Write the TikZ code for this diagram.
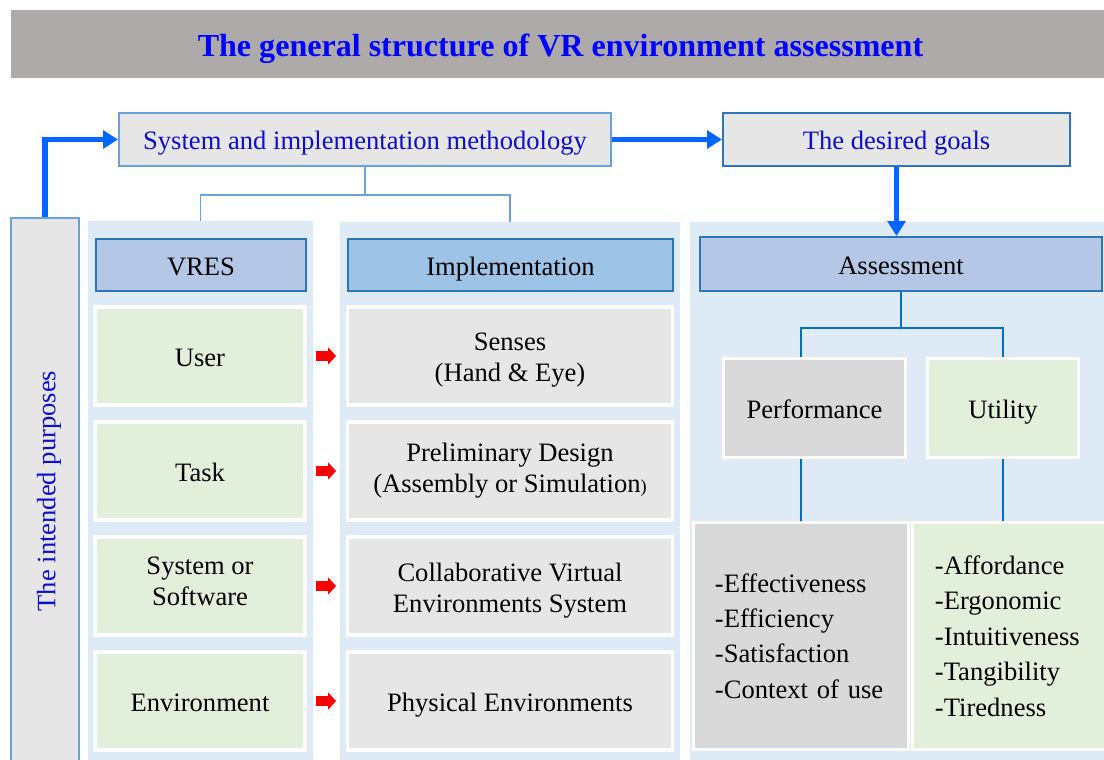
\documentclass[tikz,border=0pt]{standalone}
\usepackage{fontspec}
\setmainfont{Liberation Serif}
\definecolor{vrTitle}{HTML}{AEAAAA}
\definecolor{vrBlue}{HTML}{0000FF}
\definecolor{vrInk}{HTML}{0D0DCC}
\definecolor{vrArrow}{HTML}{0066FF}
\definecolor{vrLight}{HTML}{67A3DA}
\definecolor{vrEdge}{HTML}{2E75B6}
\definecolor{vrTie}{HTML}{0070C0}
\definecolor{vrPanel}{HTML}{DEEAF6}
\definecolor{vrHeadA}{HTML}{B4C7E7}
\definecolor{vrHeadB}{HTML}{9DC3E6}
\definecolor{vrBox}{HTML}{E6E6E6}
\definecolor{vrGreen}{HTML}{E2EFDA}
\definecolor{vrGrey}{HTML}{D9D9D9}
\usetikzlibrary{calc,arrows.meta}

% lower a line of text without changing its box
\newcommand{\drop}[2]{\raisebox{#1}[\height][\depth]{#2}}

\tikzset{
  every node/.style={font=\fontsize{18.9}{22}\selectfont, inner sep=0pt, align=center},
  oneline/.style={text height=19pt, text depth=4.2pt},
  panel/.style={fill=vrPanel},
  topbox/.style={fill=vrBox, draw=vrLight, line width=1.4pt, text=vrInk, oneline},
  head/.style={draw=vrEdge, line width=1.5pt, minimum height=1.3cm, oneline},
  cell/.style={draw=white, line width=2.2pt, minimum height=2.45cm},
  listbox/.style={cell, align=left, minimum height=5.675cm,
    font=\fontsize{18.9}{25.2}\selectfont},
  flow/.style={vrArrow, line width=3.6pt, -{Triangle[length=10.5pt,width=12.5pt]}},
  link/.style={vrLight, line width=1.4pt},
  tie/.style={vrTie, line width=2pt},
  hint/.style={red, line width=6.5pt, -{Triangle[length=5.7pt,width=12pt]},
    shorten <=6.4pt, shorten >=7pt},
}

\begin{document}
\begin{tikzpicture}[x=0.025cm, y=-0.025cm]
  \useasboundingbox (0,0) rectangle (1104,760);

  % title bar
  \node[fill=vrTitle, minimum width=27.475cm, minimum height=1.7cm,
    text height=23pt, text depth=5pt,
    font=\fontsize{22.8}{26}\selectfont\bfseries, text=vrBlue] (title) at (560.5,44)
    {The general structure of VR environment assessment};

  % top row
  \node[topbox, minimum width=12.3cm, minimum height=1.325cm] (sys) at (365,139.5)
    {System and implementation methodology};
  \node[topbox, draw=vrEdge, minimum width=8.675cm, minimum height=1.325cm] (goals) at (896.5,139.5)
    {The desired goals};
  \node[topbox, rotate=90, minimum width=13.65cm, minimum height=1.7cm] (purposes) at (45,491)
    {The intended purposes};

  % panels
  \node[panel, minimum width=5.625cm, minimum height=13.725cm] (vrespanel) at (200.5,495.5) {};
  \node[panel, minimum width=8.5cm, minimum height=13.7cm] (implpanel) at (510,496) {};
  \node[panel, minimum width=10.5cm, minimum height=13.7cm] (assesspanel) at (900,496) {};

  % headers
  \node[head, fill=vrHeadA, minimum width=5.25cm] (vreshead) at (201,265) {VRES};
  \node[head, fill=vrHeadB, minimum width=8.125cm] (implhead) at (510.5,265) {Implementation};
  \node[head, fill=vrHeadA, minimum width=10.05cm, minimum height=1.35cm] (asshead) at (901,264) {Assessment};

  % VRES column
  \node[cell, oneline, fill=vrGreen, minimum width=5.25cm] (user) at (200,356) {User};
  \node[cell, oneline, fill=vrGreen, minimum width=5.25cm] (task) at (200,471) {Task};
  \node[cell, fill=vrGreen, minimum width=5.25cm] (software) at (200,586)
    {\drop{3.2pt}{System or}\\\drop{3.2pt}{Software}};
  \node[cell, oneline, fill=vrGreen, minimum width=5.25cm] (environment) at (200,701) {Environment};

  % implementation column
  \node[cell, fill=vrBox, minimum width=8.125cm] (senses) at (510,356)
    {\drop{-3.2pt}{Senses}\\\drop{-3.2pt}{(Hand \& Eye)}};
  \node[cell, fill=vrBox, minimum width=8.125cm] (design) at (510,471)
    {Preliminary Design\\(Assembly or Simulation{\fontsize{13}{22}\selectfont)}};
  \node[cell, fill=vrBox, minimum width=8.125cm] (collab) at (510,586)
    {\drop{-3.2pt}{Collaborative Virtual}\\\drop{-3.2pt}{Environments System}};
  \node[cell, oneline, fill=vrBox, minimum width=8.125cm] (physical) at (510,701) {Physical Environments};

  % assessment column
  \node[cell, oneline, fill=vrGrey, minimum width=4.55cm, minimum height=2.475cm] (perf) at (814.5,408) {Performance};
  \node[cell, oneline, fill=vrGreen, minimum width=3.775cm, minimum height=2.475cm] (util) at (1003,408) {Utility};
  \node[listbox, fill=vrGrey, text width=4.3cm, inner xsep=0.5375cm] (perflist) at (801,636)
    {-Effectiveness\\-Efficiency\\-Satisfaction\\-Context of use};
  \node[listbox, fill=vrGreen, text width=3.775cm, inner xsep=0.5625cm] (utillist) at (1010.5,636)
    {-Affordance\\-Ergonomic\\-Intuitiveness\\-Tangibility\\-Tiredness};

  % blue arrows
  \draw[flow] (purposes.east) |- (sys.west);
  \draw[flow] (sys.east) -- (goals.west);
  \draw[flow] (goals.south) -- (goals.south |- asshead.north);

  % tree lines
  \draw[link] (sys.south) -- ++(0,28) coordinate (split);
  \draw[link] (vrespanel.north) |- (split) -| (implpanel.north);
  \draw[tie] (asshead.south) -- ++(0,36) coordinate (fork);
  \draw[tie] (perflist.north |- perf.north) |- (fork) -| (util.north);
  \draw[tie] (perflist.north |- perf.south) -- (perflist.north);
  \draw[tie] (util.south) -- (util.south |- utillist.north);

  % red arrows
  \draw[hint] (user.east) -- (senses.west);
  \draw[hint] (task.east) -- (design.west);
  \draw[hint] (software.east) -- (collab.west);
  \draw[hint] (environment.east) -- (physical.west);
\end{tikzpicture}
\end{document}
